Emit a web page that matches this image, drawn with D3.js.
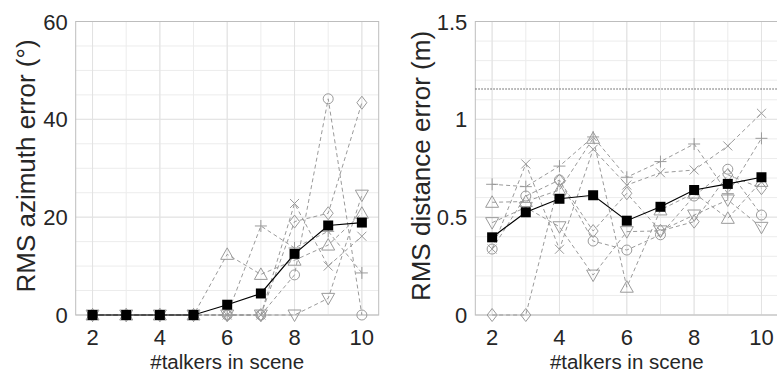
<!DOCTYPE html>
<html>
<head>
<meta charset="utf-8">
<script src="https://cdn.jsdelivr.net/npm/d3@7"></script>
<style>
  html, body { margin: 0; padding: 0; background: #fff; }
  svg text { font-family: "Liberation Sans", Arial, Helvetica, sans-serif; fill: #262626; }
</style>
</head>
<body>
<div id="chart"></div>
<script>
// talkers in scene
const talkers = [2, 3, 4, 5, 6, 7, 8, 9, 10]

// RMS azimuth error (deg), one array per condition
const aziCircle   = [0, 0, 0, 0, 0, 0, 8.2, 44.2, 0]
const aziDiamond  = [0, 0, 0, 0, 0, 0, 19.1, 20.8, 43.4]
const aziTriUp    = [0, 0, 0, 0, 12.4, 8.3, 11.2, 14.3, 20.8]
const aziTriDown  = [0, 0, 0, 0, 0, 0, 0, 3.4, 24.5]
const aziPlus     = [0, 0, 0, 0, 0, 18.2, 13.7, 17.1, 8.6]
const aziCross    = [0, 0, 0, 0, 0, 0, 22.8, 10.0, 16.1]
const aziMean     = [0, 0, 0, 0, 2.1, 4.4, 12.5, 18.3, 18.9]

// RMS distance error (m)
const distCircle  = [0.337, 0.608, 0.690, 0.378, 0.332, 0.410, 0.608, 0.745, 0.511]
const distDiamond = [0, 0, 0.687, 0.429, 0.622, 0.430, 0.477, 0.716, 0.648]
const distTriUp   = [0.576, 0.580, 0.639, 0.903, 0.142, 0.537, 0.623, 0.494, 0.683]
const distTriDown = [0.472, 0.550, 0.451, 0.204, 0.426, 0.430, 0.511, 0.588, 0.448]
const distPlus    = [0.668, 0.656, 0.761, 0.910, 0.704, 0.784, 0.874, 0.620, 0.903]
const distCross   = [0.337, 0.772, 0.336, 0.847, 0.664, 0.727, 0.741, 0.864, 1.031]
const distMean    = [0.397, 0.525, 0.594, 0.612, 0.482, 0.553, 0.639, 0.670, 0.704]
const distRef     = 1.155

const xTicks = [2, 4, 6, 8, 10]
const aziTicks = [0, 20, 40, 60]
const distTicks = [0, 0.5, 1, 1.5]

const W = 777, H = 376
const svg = d3.select('#chart').append('svg')
    .attr('width', W)
    .attr('height', H)

const gray = '#9a9a9a'

function symbolPath (kind, s) {
    let h = s / 2
    switch (kind) {
        case 'circle': return d3.symbol(d3.symbolCircle, Math.PI * 5 * 5)()
        case 'diamond': return `M0,${-6.5}L${5},0L0,${6.5}L${-5},0Z`
        case 'triUp': return `M0,${-6.5}L${6.5},${5}L${-6.5},${5}Z`
        case 'triDown': return `M0,${6.5}L${6.5},${-5}L${-6.5},${-5}Z`
        case 'plus': return `M${-h},0L${h},0M0,${-h}L0,${h}`
        case 'cross': return `M${-h * 0.75},${-h * 0.75}L${h * 0.75},${h * 0.75}M${-h * 0.75},${h * 0.75}L${h * 0.75},${-h * 0.75}`
        case 'square': return `M-5,-5L5,-5L5,5L-5,5Z`
    }
}

function panel (opt) {
    let x = d3.scaleLinear().domain([1.5, 10.5]).range([opt.left, opt.left + 303])
    let y = d3.scaleLinear().domain(opt.domain).range([315, 21.5])
    let g = svg.append('g')

    // grid: minor every integer / minor step, then major
    let minorX = d3.range(2, 11)
    g.selectAll('.gx').data(minorX).enter().append('line')
        .attr('x1', d => x(d)).attr('x2', d => x(d))
        .attr('y1', y.range()[0]).attr('y2', y.range()[1])
        .attr('stroke', '#ececec').attr('stroke-width', 1)
    g.selectAll('.gy').data(opt.minorY).enter().append('line')
        .attr('x1', x.range()[0]).attr('x2', x.range()[1])
        .attr('y1', d => y(d)).attr('y2', d => y(d))
        .attr('stroke', '#ececec').attr('stroke-width', 1)
    g.selectAll('.gmx').data(xTicks).enter().append('line')
        .attr('x1', d => x(d)).attr('x2', d => x(d))
        .attr('y1', y.range()[0]).attr('y2', y.range()[1])
        .attr('stroke', '#e2e2e2').attr('stroke-width', 1)
    g.selectAll('.gmy').data(opt.ticks).enter().append('line')
        .attr('x1', x.range()[0]).attr('x2', x.range()[1])
        .attr('y1', d => y(d)).attr('y2', d => y(d))
        .attr('stroke', '#e2e2e2').attr('stroke-width', 1)

    // box
    g.append('rect')
        .attr('x', x.range()[0]).attr('y', y.range()[1])
        .attr('width', x.range()[1] - x.range()[0])
        .attr('height', y.range()[0] - y.range()[1])
        .attr('fill', 'none').attr('stroke', '#bdbdbd').attr('stroke-width', 1)

    // reference line
    if (opt.ref !== undefined) {
        g.append('line')
            .attr('x1', x.range()[0]).attr('x2', x.range()[1])
            .attr('y1', y(opt.ref)).attr('y2', y(opt.ref))
            .attr('stroke', '#555').attr('stroke-width', 1)
            .attr('stroke-dasharray', '1.5,1.5')
    }

    let line = d3.line().x((d, i) => x(talkers[i])).y(d => y(d))

    opt.series.forEach(function (s) {
        g.append('path').datum(s.values)
            .attr('d', line)
            .attr('fill', 'none')
            .attr('stroke', gray).attr('stroke-width', 1)
            .attr('stroke-dasharray', '4,3')
        g.selectAll(null).data(s.values).enter().append('path')
            .attr('transform', (d, i) => 'translate(' + x(talkers[i]) + ',' + y(d) + ')')
            .attr('d', symbolPath(s.kind, 12))
            .attr('fill', 'none')
            .attr('stroke', gray).attr('stroke-width', 1)
    })

    // mean
    g.append('path').datum(opt.mean)
        .attr('d', line)
        .attr('fill', 'none')
        .attr('stroke', '#000').attr('stroke-width', 1.2)
    g.selectAll(null).data(opt.mean).enter().append('path')
        .attr('transform', (d, i) => 'translate(' + x(talkers[i]) + ',' + y(d) + ')')
        .attr('d', symbolPath('square'))
        .attr('fill', '#000')

    // tick labels
    g.selectAll('.tx').data(xTicks).enter().append('text')
        .attr('x', d => x(d)).attr('y', 345)
        .attr('text-anchor', 'middle')
        .attr('font-size', 22)
        .text(d => d)
    g.selectAll('.ty').data(opt.ticks).enter().append('text')
        .attr('x', x.range()[0] - 8).attr('y', d => y(d) + 8)
        .attr('text-anchor', 'end')
        .attr('font-size', 22)
        .text(d => d)

    // axis labels
    g.append('text')
        .attr('x', (x.range()[0] + x.range()[1]) / 2).attr('y', 369)
        .attr('text-anchor', 'middle')
        .attr('font-size', 20.5)
        .text('#talkers in scene')
    g.append('text')
        .attr('transform', 'translate(' + opt.labelX + ',166) rotate(-90)')
        .attr('text-anchor', 'middle')
        .attr('font-size', 26)
        .text(opt.ylabel)
}

panel({
    left: 75.7,
    domain: [0, 60],
    ticks: aziTicks,
    minorY: d3.range(0, 61, 5),
    ylabel: 'RMS azimuth error (°)',
    labelX: 35,
    mean: aziMean,
    series: [
        { kind: 'circle', values: aziCircle },
        { kind: 'diamond', values: aziDiamond },
        { kind: 'triUp', values: aziTriUp },
        { kind: 'triDown', values: aziTriDown },
        { kind: 'plus', values: aziPlus },
        { kind: 'cross', values: aziCross }
    ]
})

panel({
    left: 475.3,
    domain: [0, 1.5],
    ticks: distTicks,
    minorY: d3.range(0, 1.51, 0.1),
    ylabel: 'RMS distance error (m)',
    labelX: 430,
    ref: distRef,
    mean: distMean,
    series: [
        { kind: 'circle', values: distCircle },
        { kind: 'diamond', values: distDiamond },
        { kind: 'triUp', values: distTriUp },
        { kind: 'triDown', values: distTriDown },
        { kind: 'plus', values: distPlus },
        { kind: 'cross', values: distCross }
    ]
})
</script>
</body>
</html>
